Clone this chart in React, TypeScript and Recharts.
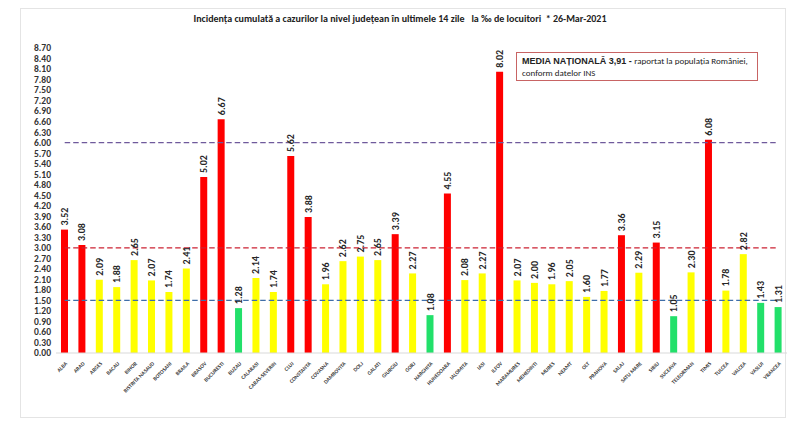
import { useEffect } from 'react'
import { BarChart, Bar, XAxis, YAxis, Cell, LabelList, ReferenceLine } from 'recharts'

const counties = [
    'ALBA', 'ARAD', 'ARGES', 'BACAU', 'BIHOR', 'BISTRITA NASAUD', 'BOTOSANI', 'BRAILA', 'BRASOV', 'BUCURESTI',
    'BUZAU', 'CALARASI', 'CARAS-SEVERIN', 'CLUJ', 'CONSTANTA', 'COVASNA', 'DAMBOVITA', 'DOLJ', 'GALATI', 'GIURGIU',
    'GORJ', 'HARGHITA', 'HUNEDOARA', 'IALOMITA', 'IASI', 'ILFOV', 'MARAMURES', 'MEHEDINTI', 'MURES', 'NEAMT',
    'OLT', 'PRAHOVA', 'SALAJ', 'SATU MARE', 'SIBIU', 'SUCEAVA', 'TELEORMAN', 'TIMIS', 'TULCEA', 'VALCEA',
    'VASLUI', 'VRANCEA',
]

const incidence = [
    3.52, 3.08, 2.09, 1.88, 2.65, 2.07, 1.74, 2.41, 5.02, 6.67,
    1.28, 2.14, 1.74, 5.62, 3.88, 1.96, 2.62, 2.75, 2.65, 3.39,
    2.27, 1.08, 4.55, 2.08, 2.27, 8.02, 2.07, 2.00, 1.96, 2.05,
    1.60, 1.77, 3.36, 2.29, 3.15, 1.05, 2.30, 6.08, 1.78, 2.82,
    1.43, 1.31,
]

const yTicks = [
    0, 0.3, 0.6, 0.9, 1.2, 1.5, 1.8, 2.1, 2.4, 2.7, 3.0, 3.3, 3.6, 3.9, 4.2,
    4.5, 4.8, 5.1, 5.4, 5.7, 6.0, 6.3, 6.6, 6.9, 7.2, 7.5, 7.8, 8.1, 8.4, 8.7,
]

// praguri: 6 ‰, 3 ‰, 1.5 ‰
const thresholds = [6, 3, 1.5]
const thresholdColors = ['#6f5a9c', '#cc2233', '#3f6ea8']

const TITLE = 'Incidența cumulată a cazurilor la nivel județean în ultimele 14 zile   la ‰ de locuitori  * 26-Mar-2021'
const NOTE_BOLD = 'MEDIA NAȚIONALĂ 3,91 - '
const NOTE_TEXT = 'raportat la populația României,'
const NOTE_LINE2 = 'conform datelor INS'

const FONT = "Carlito, 'Liberation Sans Narrow', 'DejaVu Sans Condensed', sans-serif"

function barColor(value: number) {
    if (value >= 3) return '#ff0000'
    if (value >= 1.5) return '#ffff00'
    return '#22e06a'
}

const chartData = counties.map((name, i) => ({ name, value: incidence[i] }))
const firstCounty = counties[0]
const lastCounty = counties[counties.length - 1]

function CountyTick(props: any) {
    const { x, y, payload } = props
    return (
        <g transform={`translate(${x + 3},${y + 3})`}>
            <text
                transform="rotate(-45)"
                textAnchor="end"
                fontSize={5.5}
                fontWeight="bold"
                fill="#3a3a3a"
                stroke="none"
                fontFamily={FONT}
            >
                {payload.value}
            </text>
        </g>
    )
}

function ValueLabel(props: any) {
    const { x, y, width, value } = props
    const cx = x + width / 2
    const ty = y - 4
    return (
        <text
            transform={`translate(${cx + 3.5},${ty}) rotate(-90)`}
            textAnchor="start"
            fontSize={10}
            fontWeight="bold"
            fill="#262626"
            fontFamily={FONT}
        >
            {Number(value).toFixed(2)}
        </text>
    )
}

export default function App() {
    useEffect(() => {
        document.body.style.margin = '0'
    }, [])

    return (
        <div style={{ position: 'relative', width: 800, height: 432, background: '#fff', fontFamily: FONT }}>
            <div
                style={{
                    position: 'absolute',
                    left: 20,
                    top: 8,
                    width: 766,
                    height: 410,
                    border: '1px solid #e4e4e4',
                    boxSizing: 'border-box',
                }}
            />
            <div
                style={{
                    position: 'absolute',
                    left: 0,
                    top: 12,
                    width: 800,
                    textAlign: 'center',
                    fontSize: 10,
                    fontWeight: 'bold',
                    color: '#222',
                    whiteSpace: 'pre',
                }}
            >
                {TITLE}
            </div>
            <BarChart
                width={800}
                height={432}
                data={chartData}
                margin={{ top: 48, right: 13, bottom: 19, left: 0 }}
                barCategoryGap={0}
            >
                <XAxis
                    dataKey="name"
                    interval={0}
                    tickLine={false}
                    axisLine={{ stroke: '#d9d9d9' }}
                    height={60}
                    tick={<CountyTick />}
                />
                <YAxis
                    domain={[0, 8.7]}
                    ticks={yTicks}
                    interval={0}
                    width={56}
                    tickLine={false}
                    axisLine={false}
                    tickSize={3}
                    tickMargin={2}
                    tickFormatter={(v: number) => v.toFixed(2)}
                    tick={{ fontSize: 9.5, fontWeight: 'bold', fill: '#333', fontFamily: FONT }}
                />
                <Bar dataKey="value" barSize={7} isAnimationActive={false}>
                    {chartData.map((d) => (
                        <Cell key={d.name} fill={barColor(d.value)} />
                    ))}
                    <LabelList dataKey="value" content={<ValueLabel />} />
                </Bar>
                {thresholds.map((t, i) => (
                    <ReferenceLine
                        key={t}
                        segment={[
                            { x: firstCounty, y: t },
                            { x: lastCounty, y: t },
                        ]}
                        stroke={thresholdColors[i]}
                        strokeWidth={1.2}
                        strokeDasharray="5.5 3"
                    />
                ))}
            </BarChart>
            <div
                style={{
                    position: 'absolute',
                    left: 516,
                    top: 52,
                    width: 242,
                    height: 29,
                    border: '1px solid #c86464',
                    boxSizing: 'border-box',
                    padding: '2px 5px',
                    fontSize: 9,
                    lineHeight: '12px',
                    color: '#222',
                    background: '#fff',
                }}
            >
                <span style={{ fontFamily: "'Liberation Sans', Arial, sans-serif", fontWeight: 'bold' }}>{NOTE_BOLD}</span>
                <span>{NOTE_TEXT}</span>
                <br />
                <span>{NOTE_LINE2}</span>
            </div>
        </div>
    )
}
